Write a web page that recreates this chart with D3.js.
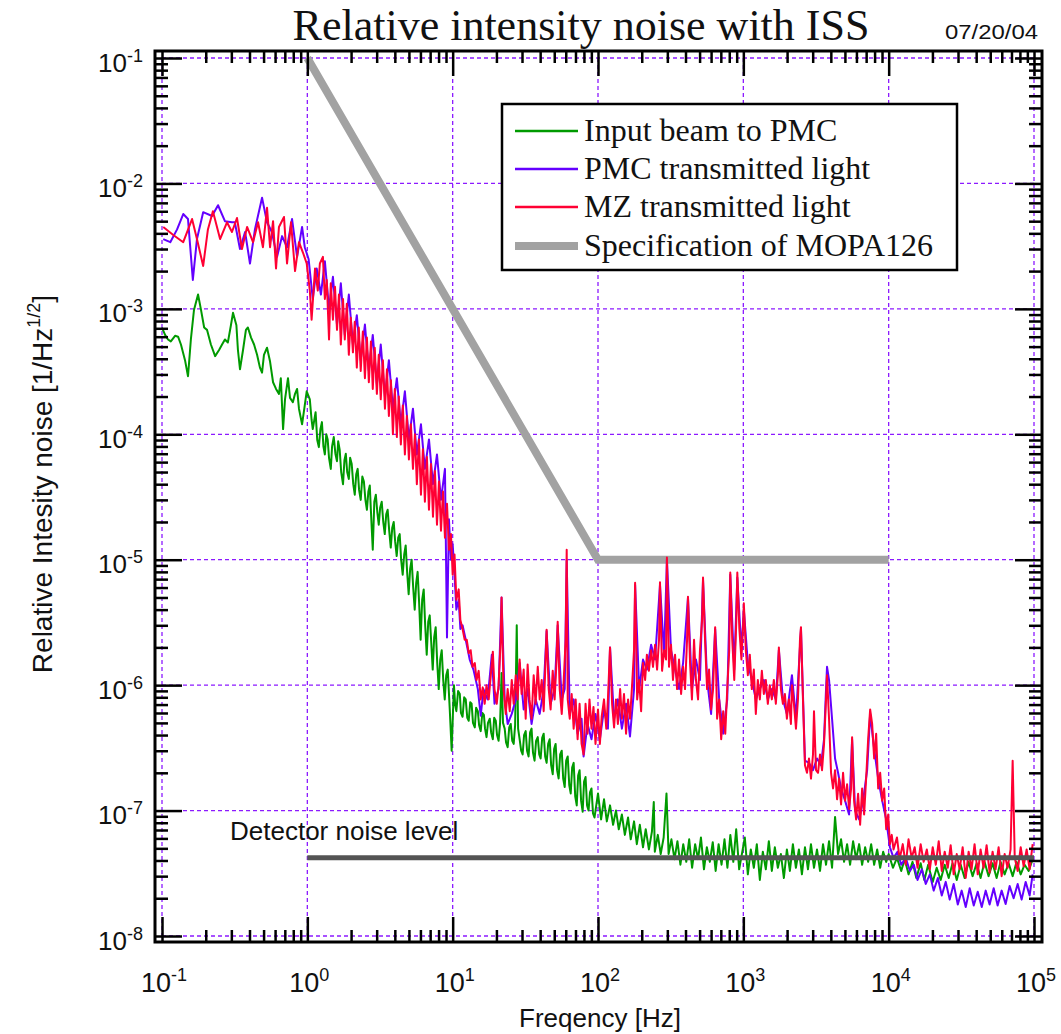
<!DOCTYPE html>
<html>
<head>
<meta charset="utf-8">
<script src="https://cdn.jsdelivr.net/npm/d3@7"></script>
<style>
  body { margin: 0; background: #fff; }
  svg { display: block; }
</style>
</head>
<body>
<svg id="chart" width="1061" height="1034"></svg>
<script>
// Relative intensity noise spectra, [frequency Hz, RIN 1/sqrt(Hz)]
const inputBeam = [
  [0.100,7.1e-4],[0.105,6.2e-4],[0.110,5.7e-4],[0.115,5.5e-4],[0.123,6.1e-4],[0.129,6.0e-4],[0.135,5.2e-4],[0.144,3.9e-4],[0.151,2.9e-4],[0.158,5.7e-4],[0.166,9.8e-4],[0.177,1.3e-3],[0.185,1.0e-3],[0.195,7.1e-4],[0.204,6.8e-4],[0.217,5.2e-4],[0.232,4.2e-4],[0.247,4.7e-4],[0.259,5.2e-4],[0.271,5.7e-4],[0.284,5.4e-4],[0.298,7.4e-4],[0.308,9.3e-4],[0.325,7.4e-4],[0.333,4.7e-4],[0.344,3.3e-4],[0.361,4.7e-4],[0.378,6.8e-4],[0.390,7.1e-4],[0.410,5.9e-4],[0.430,5.2e-4],[0.451,4.3e-4],[0.472,3.4e-4],[0.488,3.1e-4],[0.503,4.3e-4],[0.528,4.9e-4],[0.554,3.8e-4],[0.581,2.6e-4],[0.609,2.3e-4],[0.638,2.1e-4],[0.657,2.8e-4],[0.681,1.1e-4],[0.702,1.9e-4],[0.736,2.8e-4],[0.760,1.95e-4],[0.795,1.8e-4],[0.823,2.1e-4],[0.850,2.3e-4],[0.876,1.6e-4],[0.92,1.2e-4],[0.96,1.7e-4],[0.99,2.2e-4],
  [1.04,1.9e-4],[1.07,1.3e-4],[1.09,1.1e-4],[1.14,1.5e-4],[1.17,9.0e-5],[1.20,7.9e-5],[1.23,1.1e-4],[1.26,1.25e-4],[1.29,8.0e-5],[1.32,6.9e-5],[1.35,1.0e-4],[1.38,9.1e-5],[1.41,6.5e-5],[1.45,5.3e-5],[1.48,8.0e-5],[1.52,9.5e-5],[1.56,7.0e-5],[1.60,6.1e-5],[1.63,8.8e-5],[1.67,7.5e-5],[1.71,5.0e-5],[1.76,4.0e-5],[1.80,6.2e-5],[1.84,7.0e-5],[1.88,5.0e-5],[1.93,4.4e-5],[1.97,6.5e-5],[2.02,5.8e-5],[2.07,4.0e-5],[2.12,3.3e-5],[2.17,4.8e-5],[2.22,5.3e-5],[2.27,3.6e-5],[2.33,3.0e-5],[2.39,4.6e-5],[2.45,4.2e-5],[2.51,3.0e-5],[2.57,2.5e-5],[2.63,3.5e-5],[2.69,3.9e-5],[2.75,2.2e-5],[2.82,1.2e-5],[2.89,2.9e-5],[2.96,3.3e-5],[3.03,2.4e-5],[3.10,1.9e-5],[3.17,2.6e-5],[3.25,2.9e-5],[3.33,2.0e-5],[3.41,1.6e-5],[3.49,2.3e-5],[3.57,2.5e-5],[3.66,1.7e-5],[3.75,1.25e-5],[3.84,1.8e-5],[3.93,2.0e-5],[4.02,1.4e-5],[4.12,1.07e-5],[4.22,1.5e-5],[4.32,1.6e-5],[4.42,1.0e-5],[4.53,7.6e-6],[4.64,1.1e-5],[4.75,1.3e-5],[4.86,8.0e-6],[4.98,5.3e-6],[5.10,8.5e-6],[5.22,1.0e-5],[5.35,6.0e-6],[5.48,4.0e-6],[5.61,6.5e-6],[5.74,8.0e-6],[5.88,4.5e-6],[6.02,2.3e-6],[6.17,4.8e-6],[6.32,5.8e-6],[6.47,3.0e-6],[6.63,1.75e-6],[6.79,3.2e-6],[6.95,3.6e-6],[7.12,2.2e-6],[7.29,1.33e-6],[7.46,2.4e-6],[7.64,2.9e-6],[7.83,1.5e-6],[8.02,9.3e-7],[8.21,1.6e-6],[8.41,1.9e-6],[8.61,1.1e-6],[8.82,7.7e-7],[9.03,1.2e-6],[9.25,1.33e-6],[9.55,6.4e-7],[9.84,3.0e-7],
  [10.2,1.0e-6],[10.4,7.0e-7],[10.6,6.2e-7],[10.9,9.0e-7],[11.2,8.5e-7],[11.4,6.0e-7],[11.7,5.6e-7],[12.0,8.0e-7],[12.3,7.7e-7],[12.6,5.5e-7],[12.9,5.2e-7],[13.2,7.3e-7],[13.5,7.1e-7],[13.8,5.0e-7],[14.2,4.6e-7],[14.5,6.6e-7],[14.9,6.2e-7],[15.2,4.8e-7],[15.6,4.3e-7],[16.0,6.0e-7],[16.4,5.8e-7],[16.7,4.5e-7],[17.1,3.85e-7],[17.5,5.0e-7],[18.0,5.4e-7],[18.4,4.2e-7],[18.9,3.7e-7],[19.3,5.5e-7],[19.8,5.2e-7],[20.2,4.0e-7],[20.7,3.6e-7],[21.2,5.0e-7],[21.7,1.25e-6],[22.2,5.0e-7],[22.8,4.5e-7],[23.3,3.5e-7],[23.9,3.2e-7],[24.5,4.6e-7],[25.1,4.9e-7],[25.7,3.6e-7],[26.3,3.4e-7],[26.9,4.8e-7],[27.6,3.0e-6],[28.2,4.5e-7],[28.9,3.7e-7],[29.6,3.0e-7],[30.3,2.8e-7],[31.0,4.0e-7],[31.8,4.3e-7],[32.5,3.0e-7],[33.3,2.7e-7],[34.1,4.2e-7],[34.9,4.5e-7],[35.7,2.9e-7],[36.6,2.5e-7],[37.5,3.6e-7],[38.5,3.85e-7],[39.4,2.8e-7],[40.3,2.6e-7],[41.3,3.8e-7],[42.3,4.1e-7],[43.3,2.7e-7],[44.3,2.4e-7],[45.4,3.4e-7],[46.5,3.7e-7],[47.6,2.3e-7],[48.8,1.95e-7],[49.9,3.1e-7],[51.1,3.4e-7],[52.3,2.1e-7],[53.6,1.8e-7],[54.9,2.8e-7],[56.3,3.0e-7],[57.6,1.8e-7],[59.0,1.54e-7],[60.4,2.5e-7],[61.9,2.7e-7],[63.4,1.6e-7],[64.9,1.37e-7],[66.4,2.2e-7],[68.0,2.4e-7],[69.7,1.3e-7],[71.4,1.1e-7],[73.0,1.9e-7],[74.7,2.1e-7],[76.5,1.2e-7],[78.4,9.8e-8],[80.2,1.7e-7],[82.1,1.85e-7],[84.1,1.1e-7],[86.1,1.0e-7],[88.1,1.4e-7],[90.2,1.5e-7],[92.4,9.5e-8],[94.6,8.8e-8],
  [100,1.37e-7],[105,8.5e-8],[110,1.23e-7],[115,8.2e-8],[121,1.1e-7],[127,7.7e-8],[133,1.0e-7],[139,7.1e-8],[146,9.3e-8],[153,6.4e-8],[161,8.8e-8],[168,5.9e-8],[177,8.2e-8],[185,5.4e-8],[194,7.7e-8],[204,5.1e-8],[213,7.1e-8],[224,4.9e-8],[235,6.8e-8],[242,1.17e-7],[246,4.7e-8],[258,6.4e-8],[270,4.5e-8],[283,6.1e-8],[296,1.37e-7],[306,4.5e-8],[320,5.9e-8],[336,4.1e-8],[352,5.7e-8],[369,3.7e-8],[386,5.4e-8],[405,3.9e-8],[424,5.9e-8],[444,3.5e-8],[466,5.4e-8],[488,4.1e-8],[511,6.1e-8],[536,3.4e-8],[561,5.1e-8],[588,3.9e-8],[616,5.6e-8],[645,3.3e-8],[676,5.4e-8],[708,3.7e-8],[742,5.9e-8],[777,3.5e-8],[814,6.4e-8],[853,3.9e-8],[893,7.1e-8],[936,3.4e-8],
  [1024,6.1e-8],[1074,3.1e-8],[1126,4.9e-8],[1181,3.5e-8],[1238,5.4e-8],[1299,2.8e-8],[1362,4.7e-8],[1428,3.4e-8],[1498,5.7e-8],[1571,3.3e-8],[1647,5.1e-8],[1728,3.5e-8],[1813,4.5e-8],[1901,2.9e-8],[1994,4.9e-8],[2091,3.3e-8],[2193,5.4e-8],[2300,3.5e-8],[2412,4.9e-8],[2530,3.1e-8],[2655,5.1e-8],[2784,3.4e-8],[2920,5.4e-8],[3063,3.5e-8],[3213,4.9e-8],[3370,3.3e-8],[3535,5.4e-8],[3707,3.7e-8],[3888,5.7e-8],[4078,3.5e-8],[4277,8.9e-8],[4486,4.5e-8],[4704,5.9e-8],[4934,3.9e-8],[5175,5.4e-8],[5428,3.7e-8],[5693,5.7e-8],[5970,4.1e-8],[6262,5.4e-8],[6567,3.7e-8],[6888,5.1e-8],[7224,3.9e-8],[7577,5.4e-8],[7946,3.7e-8],[8334,4.9e-8],[8741,3.5e-8],[9168,4.7e-8],[9615,3.9e-8],
  [1.00e4,4.5e-8],[1.07e4,3.5e-8],[1.14e4,4.2e-8],[1.22e4,3.3e-8],[1.29e4,4.1e-8],[1.37e4,3.1e-8],[1.46e4,3.9e-8],[1.55e4,2.9e-8],[1.66e4,3.8e-8],[1.76e4,2.8e-8],[1.87e4,3.7e-8],[2.01e4,2.7e-8],[2.14e4,3.5e-8],[2.28e4,2.8e-8],[2.43e4,3.7e-8],[2.59e4,2.9e-8],[2.75e4,3.8e-8],[2.94e4,2.8e-8],[3.13e4,3.7e-8],[3.33e4,2.9e-8],[3.55e4,3.9e-8],[3.78e4,3.0e-8],[4.03e4,3.8e-8],[4.29e4,2.9e-8],[4.57e4,3.9e-8],[4.87e4,3.0e-8],[5.19e4,3.8e-8],[5.53e4,2.9e-8],[5.89e4,3.9e-8],[6.28e4,3.1e-8],[6.69e4,3.8e-8],[7.13e4,3.0e-8],[7.59e4,3.9e-8],[8.10e4,3.1e-8],[8.62e4,3.7e-8],[9.19e4,3.3e-8],[9.79e4,4.1e-8]
];

const pmcTransmitted = [
  [0.102,3.6e-3],[0.114,3.4e-3],[0.127,4.3e-3],[0.140,5.7e-3],[0.151,5.2e-3],[0.163,1.7e-3],[0.174,3.6e-3],[0.192,5.9e-3],[0.221,5.5e-3],[0.243,6.7e-3],[0.271,5.0e-3],[0.303,4.9e-3],[0.317,4.9e-3],[0.344,3.0e-3],[0.373,4.1e-3],[0.403,2.3e-3],[0.436,4.3e-3],[0.488,7.7e-3],[0.495,7.1e-3],[0.528,4.9e-3],[0.570,4.1e-3],[0.619,2.6e-3],[0.670,3.8e-3],[0.725,3.1e-3],[0.785,5.2e-3],[0.850,2.6e-3],[0.920,4.5e-3],[0.96,3.1e-3],
  [1.02,2.5e-3],[1.09,1.2e-3],[1.16,2.1e-3],[1.24,1.3e-3],[1.32,2.4e-3],[1.41,1.0e-3],[1.50,1.8e-3],[1.60,7.5e-4],[1.70,1.6e-3],[1.81,6.2e-4],[1.93,1.3e-3],[2.06,5.2e-4],[2.19,8.9e-4],[2.33,3.9e-4],[2.49,7.5e-4],[2.65,3.2e-4],[2.82,6.2e-4],[3.01,2.5e-4],[3.20,5.2e-4],[3.42,2.0e-4],[3.64,3.9e-4],[3.88,1.6e-4],[4.13,2.8e-4],[4.40,1.2e-4],[4.69,2.2e-4],[5.00,9.1e-5],[5.33,1.6e-4],[5.67,6.9e-5],[6.05,1.2e-4],[6.44,5.3e-5],[6.87,9.1e-5],[7.32,4.0e-5],[7.80,6.9e-5],[8.31,3.0e-5],[8.85,5.3e-5],[9.14,2.4e-6],[9.43,2.1e-5],[9.73,1.0e-5],
  [10.0,1.33e-5],[10.3,7.6e-6],[10.6,4.0e-6],[11.0,4.8e-6],[11.3,2.8e-6],[11.7,3.0e-6],[12.3,2.3e-6],[13.1,1.6e-6],[13.9,1.33e-6],[14.9,9.3e-7],[15.6,5.7e-7],[16.3,9.3e-7],[17.4,7.7e-7],[18.6,1.75e-6],[19.4,7.1e-7],[20.7,9.3e-7],[21.7,5.0e-6],[22.8,7.7e-7],[23.9,4.9e-7],[25.5,5.9e-7],[27.2,7.7e-7],[28.9,1.5e-6],[30.8,6.4e-7],[32.8,9.3e-7],[34.9,4.9e-7],[37.2,7.7e-7],[39.7,5.9e-7],[42.3,9.3e-7],[44.3,2.7e-6],[47.2,7.1e-7],[50.3,9.3e-7],[52.8,3.0e-6],[56.3,7.7e-7],[59.0,9.3e-7],[60.9,1.0e-5],[63.9,5.9e-7],[68.0,7.7e-7],[72.4,4.1e-7],[77.1,5.4e-7],[79.6,2.7e-7],[84.7,4.9e-7],[90.2,3.7e-7],[96.1,5.9e-7],
  [103,3.7e-7],[110,6.4e-7],[117,4.5e-7],[121,2.0e-6],[129,5.4e-7],[137,7.7e-7],[146,4.5e-7],[156,7.1e-7],[166,3.9e-7],[177,9.3e-7],[180,6.3e-6],[192,9.3e-7],[204,1.6e-6],[217,1.33e-6],[232,2.1e-6],[247,1.6e-6],[267,6.3e-6],[285,1.75e-6],[298,1.0e-5],[318,1.9e-6],[339,1.33e-6],[361,9.3e-7],[385,1.5e-6],[416,5.0e-6],[443,9.3e-7],[472,1.6e-6],[503,1.1e-6],[528,6.9e-6],[563,1.1e-6],[600,5.9e-7],[640,2.8e-6],[682,7.7e-7],[727,4.1e-7],[775,7.7e-7],[813,7.6e-6],[866,1.33e-6],[909,7.2e-6],[970,1.9e-6],
  [1008,4.0e-6],[1074,1.5e-6],[1144,1.1e-6],[1219,7.7e-7],[1299,9.3e-7],[1384,1.1e-6],[1474,7.7e-7],[1571,9.3e-7],[1674,7.7e-7],[1756,1.9e-6],[1872,7.7e-7],[1994,5.9e-7],[2160,1.2e-6],[2302,5.4e-7],[2492,2.8e-6],[2655,2.5e-7],[2830,2.4e-7],[3015,2.1e-7],[3214,2.6e-7],[3424,2.3e-7],[3591,3.7e-7],[3707,9.3e-7],[3766,1.4e-6],[3888,1.1e-6],[4078,5.4e-7],[4277,2.6e-7],[4486,2.0e-7],[4704,1.5e-7],[5013,1.2e-7],[5342,9.3e-8],[5602,3.7e-7],[5876,1.0e-7],[6262,8.5e-8],[6673,1.2e-7],[7110,2.1e-7],[7457,5.9e-7],[7946,3.1e-7],[8468,1.8e-7],[9023,1.2e-7],[9615,8.5e-8],
  [1.02e4,5.1e-8],[1.08e4,4.2e-8],[1.15e4,4.7e-8],[1.22e4,3.7e-8],[1.31e4,4.2e-8],[1.40e4,3.3e-8],[1.49e4,3.7e-8],[1.58e4,2.8e-8],[1.69e4,3.4e-8],[1.80e4,2.6e-8],[1.92e4,3.1e-8],[2.04e4,2.3e-8],[2.18e4,2.9e-8],[2.32e4,2.1e-8],[2.47e4,2.7e-8],[2.63e4,1.95e-8],[2.80e4,2.6e-8],[2.99e4,1.78e-8],[3.18e4,2.3e-8],[3.39e4,1.7e-8],[3.61e4,2.4e-8],[3.85e4,1.75e-8],[4.10e4,2.25e-8],[4.37e4,1.7e-8],[4.65e4,2.3e-8],[4.95e4,1.78e-8],[5.28e4,2.4e-8],[5.62e4,1.75e-8],[5.99e4,2.3e-8],[6.38e4,1.8e-8],[6.80e4,2.5e-8],[7.24e4,2.0e-8],[7.72e4,2.6e-8],[8.22e4,1.95e-8],[8.76e4,2.7e-8],[9.33e4,2.1e-8],[9.79e4,3.1e-8]
];

const mzTransmitted = [
  [0.102,4.5e-3],[0.119,3.9e-3],[0.140,3.4e-3],[0.161,5.2e-3],[0.174,3.6e-3],[0.192,2.2e-3],[0.207,4.3e-3],[0.224,6.0e-3],[0.251,3.6e-3],[0.280,4.9e-3],[0.303,4.1e-3],[0.328,5.3e-3],[0.355,3.0e-3],[0.385,4.5e-3],[0.423,3.4e-3],[0.458,4.9e-3],[0.495,3.1e-3],[0.528,6.4e-3],[0.554,3.1e-3],[0.581,5.0e-3],[0.609,2.1e-3],[0.638,4.5e-3],[0.691,5.4e-3],[0.725,2.3e-3],[0.772,4.9e-3],[0.823,2.0e-3],[0.876,3.4e-3],[0.934,2.8e-3],[0.99,2.3e-3],
  [1.04,1.4e-3],[1.07,8.2e-4],[1.13,2.1e-3],[1.18,1.4e-3],[1.22,2.3e-3],[1.28,2.6e-3],[1.32,1.2e-3],[1.36,1.7e-3],[1.41,5.7e-4],[1.45,1.6e-3],[1.50,8.2e-4],[1.55,1.5e-3],[1.60,6.8e-4],[1.65,1.3e-3],[1.70,5.2e-4],[1.76,1.2e-3],[1.81,5.7e-4],[1.87,1.1e-3],[1.93,4.3e-4],[1.99,8.5e-4],[2.06,4.5e-4],[2.12,7.9e-4],[2.19,3.4e-4],[2.26,7.1e-4],[2.33,3.2e-4],[2.41,6.6e-4],[2.49,2.8e-4],[2.57,5.9e-4],[2.65,2.6e-4],[2.74,5.5e-4],[2.82,2.3e-4],[2.91,4.9e-4],[3.01,2.1e-4],[3.10,4.3e-4],[3.20,1.9e-4],[3.31,3.9e-4],[3.42,1.6e-4],[3.53,3.3e-4],[3.64,1.4e-4],[3.76,2.7e-4],[3.88,1.0e-4],[4.00,2.3e-4],[4.13,9.5e-5],[4.26,2.0e-4],[4.40,8.3e-5],[4.54,1.7e-4],[4.69,6.9e-5],[4.84,1.4e-4],[5.00,6.3e-5],[5.16,1.2e-4],[5.33,5.3e-5],[5.50,1.0e-4],[5.67,4.0e-5],[5.86,9.1e-5],[6.05,3.3e-5],[6.24,7.6e-5],[6.44,2.9e-5],[6.65,6.6e-5],[6.87,2.5e-5],[7.09,5.8e-5],[7.32,2.2e-5],[7.55,5.1e-5],[7.80,1.9e-5],[8.05,4.2e-5],[8.31,1.7e-5],[8.58,3.5e-5],[8.85,1.5e-5],[9.14,2.8e-5],[9.43,1.2e-5],[9.73,1.6e-5],
  [10.0,7.6e-6],[10.3,1.1e-5],[10.6,4.8e-6],[11.0,5.8e-6],[11.3,3.3e-6],[11.7,2.8e-6],[12.1,2.3e-6],[12.5,2.3e-6],[12.9,1.8e-6],[13.3,1.9e-6],[13.7,1.4e-6],[14.2,1.5e-6],[14.6,1.1e-6],[15.1,1.3e-6],[15.6,7.7e-7],[16.1,9.6e-7],[16.6,7.1e-7],[17.1,1.0e-6],[17.7,7.7e-7],[18.3,1.2e-6],[18.9,1.85e-6],[19.4,9.3e-7],[20.1,7.1e-7],[20.7,1.0e-6],[21.4,2.3e-6],[21.7,5.0e-6],[22.4,9.3e-7],[23.2,5.9e-7],[23.9,9.3e-7],[24.7,6.2e-7],[25.5,1.1e-6],[26.3,7.1e-7],[27.2,1.2e-6],[28.0,7.7e-7],[28.9,1.6e-6],[29.8,8.5e-7],[30.8,1.33e-6],[31.8,5.4e-7],[32.8,1.46e-6],[33.8,7.7e-7],[34.9,5.4e-7],[36.1,1.2e-6],[37.2,7.1e-7],[38.5,1.4e-6],[39.7,7.7e-7],[41.0,1.1e-6],[42.3,6.2e-7],[43.6,1.6e-6],[44.3,2.77e-6],[45.8,9.3e-7],[47.2,6.4e-7],[48.8,1.3e-6],[50.3,7.7e-7],[51.9,1.6e-6],[52.8,3.2e-6],[54.5,9.3e-7],[56.3,5.9e-7],[58.1,1.1e-6],[59.9,2.3e-6],[60.9,1.2e-5],[61.9,7.7e-7],[63.9,5.4e-7],[65.9,8.5e-7],[68.0,4.5e-7],[70.2,7.7e-7],[72.4,3.7e-7],[74.7,7.1e-7],[77.1,3.4e-7],[79.6,2.8e-7],[82.1,7.1e-7],[84.7,4.1e-7],[87.4,7.7e-7],[90.2,4.5e-7],[93.1,6.7e-7],[96.1,3.4e-7],
  [100,6.4e-7],[103,3.4e-7],[106,5.6e-7],[110,7.7e-7],[114,4.5e-7],[117,7.7e-7],[121,2.0e-6],[125,7.1e-7],[129,4.6e-7],[133,7.7e-7],[137,4.9e-7],[142,9.3e-7],[146,5.4e-7],[151,8.5e-7],[156,4.1e-7],[161,7.7e-7],[166,5.4e-7],[171,9.3e-7],[177,1.9e-6],[180,6.55e-6],[186,7.7e-7],[192,1.1e-6],[198,6.2e-7],[204,1.5e-6],[211,1.1e-6],[217,1.75e-6],[224,1.3e-6],[232,1.9e-6],[239,1.4e-6],[247,2.1e-6],[255,1.33e-6],[263,2.3e-6],[267,6.6e-6],[276,1.3e-6],[285,1.9e-6],[294,1.6e-6],[298,1.04e-5],[308,1.4e-6],[318,2.1e-6],[328,1.1e-6],[339,1.75e-6],[350,9.3e-7],[361,1.6e-6],[373,8.5e-7],[385,1.4e-6],[397,9.3e-7],[410,2.3e-6],[416,5.07e-6],[430,1.5e-6],[443,7.7e-7],[458,2.3e-6],[472,1.1e-6],[488,7.7e-7],[503,1.9e-6],[520,3.3e-6],[528,7.2e-6],[545,2.3e-6],[563,9.3e-7],[581,1.33e-6],[600,6.4e-7],[619,9.3e-7],[640,2.9e-6],[660,5.4e-7],[682,7.7e-7],[704,3.7e-7],[727,6.2e-7],[751,4.1e-7],[775,9.3e-7],[800,1.9e-6],[813,7.9e-6],[839,2.3e-6],[866,1.1e-6],[895,3.3e-6],[909,7.9e-6],[939,2.8e-6],[970,1.6e-6],
  [1000,3.3e-6],[1008,4.5e-6],[1040,1.9e-6],[1074,1.2e-6],[1108,1.75e-6],[1144,9.3e-7],[1181,1.33e-6],[1219,5.9e-7],[1258,1.1e-6],[1299,7.7e-7],[1341,1.3e-6],[1384,8.5e-7],[1428,1.1e-6],[1474,7.1e-7],[1521,1.0e-6],[1571,7.7e-7],[1622,1.1e-6],[1674,7.1e-7],[1728,1.2e-6],[1756,2.0e-6],[1813,9.3e-7],[1872,7.1e-7],[1932,8.5e-7],[1994,5.4e-7],[2059,7.7e-7],[2125,4.9e-7],[2160,1.0e-6],[2230,7.1e-7],[2302,4.5e-7],[2376,7.7e-7],[2453,2.3e-6],[2492,2.9e-6],[2572,7.7e-7],[2655,2.3e-7],[2741,2.0e-7],[2830,2.6e-7],[2921,1.8e-7],[3015,2.8e-7],[3063,6.2e-7],[3163,2.1e-7],[3265,2.0e-7],[3370,2.8e-7],[3479,2.1e-7],[3591,3.4e-7],[3707,7.7e-7],[3766,1.2e-6],[3888,5.4e-7],[4014,2.0e-7],[4143,1.5e-7],[4277,2.1e-7],[4415,1.23e-7],[4557,1.8e-7],[4704,1.12e-7],[4856,2.0e-7],[5013,1.2e-7],[5175,1.62e-7],[5342,1.03e-7],[5514,1.5e-7],[5602,3.85e-7],[5783,1.2e-7],[5970,8.5e-8],[6163,1.36e-7],[6362,7.7e-8],[6567,1.5e-7],[6779,9.3e-8],[6998,1.8e-7],[7224,3.7e-7],[7457,6.4e-7],[7698,4.9e-7],[7946,2.6e-7],[8203,4.1e-7],[8468,1.5e-7],[8741,2.0e-7],[9023,1.2e-7],[9314,1.5e-7],[9615,7.1e-8],[9925,9.3e-8],
  [1.02e4,5.4e-8],[1.05e4,6.4e-8],[1.08e4,4.9e-8],[1.14e4,6.1e-8],[1.19e4,4.1e-8],[1.25e4,5.4e-8],[1.31e4,3.7e-8],[1.37e4,5.9e-8],[1.44e4,4.2e-8],[1.51e4,5.1e-8],[1.58e4,3.5e-8],[1.66e4,5.4e-8],[1.74e4,3.9e-8],[1.83e4,4.9e-8],[1.92e4,3.4e-8],[2.01e4,5.1e-8],[2.11e4,3.7e-8],[2.21e4,5.7e-8],[2.32e4,3.3e-8],[2.43e4,4.7e-8],[2.55e4,3.5e-8],[2.67e4,5.3e-8],[2.80e4,3.1e-8],[2.94e4,4.5e-8],[3.08e4,3.4e-8],[3.23e4,5.1e-8],[3.39e4,2.9e-8],[3.55e4,4.7e-8],[3.72e4,3.4e-8],[3.90e4,5.4e-8],[4.10e4,3.1e-8],[4.29e4,4.9e-8],[4.50e4,3.5e-8],[4.72e4,5.3e-8],[4.95e4,3.2e-8],[5.19e4,4.7e-8],[5.44e4,3.4e-8],[5.71e4,5.1e-8],[5.99e4,3.0e-8],[6.28e4,4.5e-8],[6.58e4,3.5e-8],[6.90e4,4.9e-8],[7.13e4,2.5e-7],[7.37e4,4.2e-8],[7.72e4,3.3e-8],[8.10e4,5.1e-8],[8.49e4,3.6e-8],[8.90e4,4.9e-8],[9.33e4,3.4e-8],[9.79e4,5.4e-8]
];

// MOPA126 specification and detector noise floor
const specMOPA126 = [[1, 1e-1], [100, 1e-5], [1e4, 1e-5]];
const detectorNoise = [[1, 4.2e-8], [1e5, 4.2e-8]];

const legendLabels = ["Input beam to PMC", "PMC transmitted light", "MZ transmitted light", "Specification of MOPA126"];
const xMajorTicks = [1e-1, 1, 1e1, 1e2, 1e3, 1e4, 1e5];
const xTickExponents = ["-1", "0", "1", "2", "3", "4", "5"];
const yMajorTicks = [1e-8, 1e-7, 1e-6, 1e-5, 1e-4, 1e-3, 1e-2, 1e-1];
const yTickExponents = ["-8", "-7", "-6", "-5", "-4", "-3", "-2", "-1"];

const svg = d3.select("#chart");
const SANS = "'Liberation Sans', Arial, sans-serif";
const SERIF = "'Liberation Serif', 'Times New Roman', serif";

const frame = { left: 155, top: 51, right: 1042, bottom: 942 };
const x = d3.scaleLog().domain([0.1, 1e5]).range([162, 1034]);
const y = d3.scaleLog().domain([1e-8, 1e-1]).range([936, 58]);

const isDecade = v => Math.abs(Math.log10(v) - Math.round(Math.log10(v))) < 1e-9;
const xMinorTicks = x.ticks().filter(d => !isDecade(d));
const yMinorTicks = y.ticks().filter(d => !isDecade(d));

svg.append("rect").attr("width", 1061).attr("height", 1034).attr("fill", "#fff");

// dashed decade grid
const grid = svg.append("g")
  .attr("stroke", "#8c1aff").attr("stroke-width", 1.3).attr("stroke-dasharray", "4,3");
grid.selectAll("line.gx").data(xMajorTicks).join("line").attr("class", "gx")
  .attr("x1", d => x(d)).attr("x2", d => x(d))
  .attr("y1", y(1e-1)).attr("y2", y(1e-8));
grid.selectAll("line.gy").data(yMajorTicks).join("line").attr("class", "gy")
  .attr("y1", d => y(d)).attr("y2", d => y(d))
  .attr("x1", x(0.1)).attr("x2", x(1e5));

// traces
svg.append("clipPath").attr("id", "plotClip")
  .append("rect").attr("x", frame.left).attr("y", frame.top)
  .attr("width", frame.right - frame.left).attr("height", frame.bottom - frame.top);

const line = d3.line().x(d => x(d[0])).y(d => y(d[1]));
const plot = svg.append("g").attr("clip-path", "url(#plotClip)").attr("fill", "none");

plot.append("path").datum(specMOPA126).attr("d", line)
  .attr("stroke", "#a2a2a2").attr("stroke-width", 8).attr("stroke-linejoin", "miter");
plot.append("path").datum(inputBeam).attr("d", line)
  .attr("stroke", "#009a00").attr("stroke-width", 2).attr("stroke-linejoin", "round");
plot.append("path").datum(pmcTransmitted).attr("d", line)
  .attr("stroke", "#6400ff").attr("stroke-width", 2).attr("stroke-linejoin", "round");
plot.append("path").datum(mzTransmitted).attr("d", line)
  .attr("stroke", "#ff0033").attr("stroke-width", 2).attr("stroke-linejoin", "round");
plot.append("path").datum(detectorNoise).attr("d", line)
  .attr("stroke", "#545454").attr("stroke-width", 5);

// frame and inward ticks on all four sides
svg.append("rect")
  .attr("x", frame.left).attr("y", frame.top)
  .attr("width", frame.right - frame.left).attr("height", frame.bottom - frame.top)
  .attr("fill", "none").attr("stroke", "#000").attr("stroke-width", 3);

function drawAxis(axis, tx, ty) {
  const g = svg.append("g").attr("transform", `translate(${tx},${ty})`).call(axis);
  g.select(".domain").remove();
  g.selectAll(".tick text").remove();
  g.selectAll(".tick line").attr("stroke", "#000").attr("stroke-width", 2.5);
}
drawAxis(d3.axisBottom(x).tickValues(xMajorTicks).tickSize(-25), 0, frame.bottom);
drawAxis(d3.axisBottom(x).tickValues(xMinorTicks).tickSize(-12), 0, frame.bottom);
drawAxis(d3.axisTop(x).tickValues(xMajorTicks).tickSize(-25), 0, frame.top);
drawAxis(d3.axisTop(x).tickValues(xMinorTicks).tickSize(-12), 0, frame.top);
drawAxis(d3.axisLeft(y).tickValues(yMajorTicks).tickSize(-27), frame.left, 0);
drawAxis(d3.axisLeft(y).tickValues(yMinorTicks).tickSize(-13), frame.left, 0);
drawAxis(d3.axisRight(y).tickValues(yMajorTicks).tickSize(-27), frame.right, 0);
drawAxis(d3.axisRight(y).tickValues(yMinorTicks).tickSize(-13), frame.right, 0);

// power-of-ten tick labels
const xLab = svg.append("g").attr("font-family", SANS).attr("fill", "#111");
xMajorTicks.forEach((v, i) => {
  const t = xLab.append("text").attr("x", x(v) + 2).attr("y", 992)
    .attr("text-anchor", "middle").attr("font-size", 27);
  t.append("tspan").text("10");
  t.append("tspan").attr("dy", -11).attr("font-size", 18).text(xTickExponents[i]);
});
const yLab = svg.append("g").attr("font-family", SANS).attr("fill", "#111");
yMajorTicks.forEach((v, i) => {
  const t = yLab.append("text").attr("x", 143).attr("y", y(v) + 13.5)
    .attr("text-anchor", "end").attr("font-size", 26);
  t.append("tspan").text("10");
  t.append("tspan").attr("dy", -10).attr("font-size", 18).text(yTickExponents[i]);
});

// titles
svg.append("text").attr("x", 581).attr("y", 40).attr("text-anchor", "middle")
  .attr("font-family", SERIF).attr("font-size", 44).attr("fill", "#111")
  .text("Relative intensity noise with ISS");
svg.append("text").attr("x", 945).attr("y", 39)
  .attr("font-family", SANS).attr("font-size", 21).attr("fill", "#111")
  .attr("textLength", 93).attr("lengthAdjust", "spacingAndGlyphs")
  .text("07/20/04");
svg.append("text").attr("x", 600).attr("y", 1027).attr("text-anchor", "middle")
  .attr("font-family", SANS).attr("font-size", 26).attr("fill", "#111")
  .text("Freqency [Hz]");
const yTitle = svg.append("text")
  .attr("transform", "translate(52,484) rotate(-90)")
  .attr("text-anchor", "middle")
  .attr("font-family", SANS).attr("font-size", 28).attr("fill", "#111");
yTitle.append("tspan").text("Relative Intesity noise [1/Hz");
yTitle.append("tspan").attr("dy", -12).attr("font-size", 18).text("1/2");
yTitle.append("tspan").attr("dy", 12).text("]");

svg.append("text").attr("x", 230).attr("y", 840)
  .attr("font-family", SANS).attr("font-size", 26).attr("fill", "#111")
  .text("Detector noise level");

// legend
const legend = svg.append("g");
legend.append("rect").attr("x", 502).attr("y", 104).attr("width", 455).attr("height", 166)
  .attr("fill", "#fff").attr("stroke", "#000").attr("stroke-width", 2.5);
const legendColors = ["#009a00", "#6400ff", "#ff0033", "#a2a2a2"];
const legendWidths = [2.5, 2.5, 2.5, 8];
const rowY = [131, 169, 207, 246];
legendLabels.forEach((lab, i) => {
  legend.append("line").attr("x1", 515).attr("x2", 578).attr("y1", rowY[i]).attr("y2", rowY[i])
    .attr("stroke", legendColors[i]).attr("stroke-width", legendWidths[i]);
  legend.append("text").attr("x", 584).attr("y", rowY[i] + 10)
    .attr("font-family", SERIF).attr("font-size", 32).attr("fill", "#111")
    .text(lab);
});
</script>
</body>
</html>
